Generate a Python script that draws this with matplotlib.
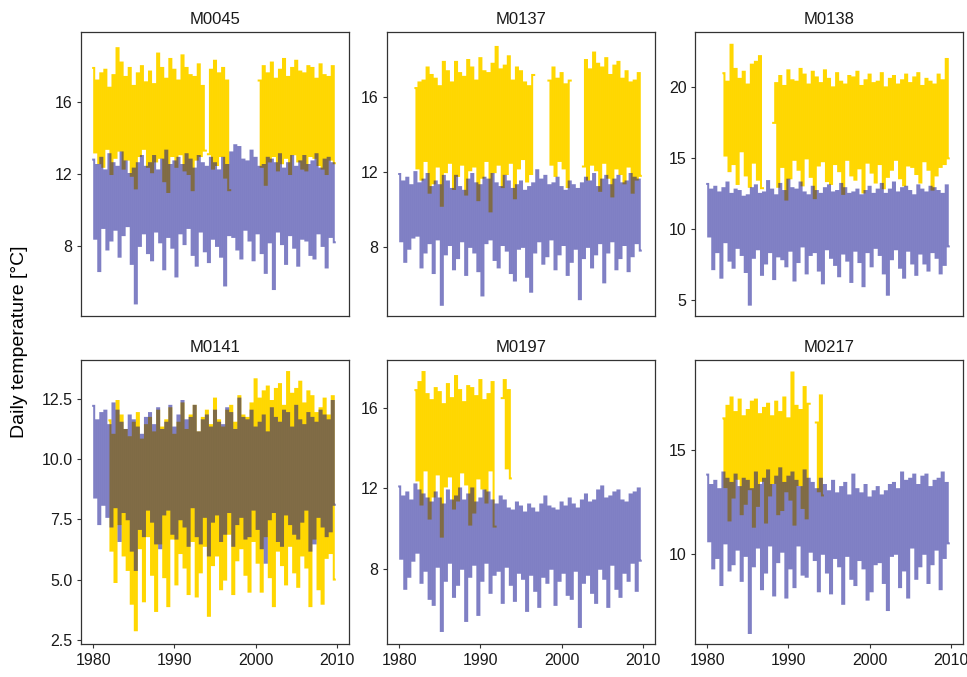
import numpy as np
import matplotlib
matplotlib.use("Agg")
import matplotlib.pyplot as plt

nan = float("nan")

# ---------------- data (quarterly readings, °C) ----------------
stations = ["M0045", "M0137", "M0138", "M0141", "M0197", "M0217"]

m0045_yellow_start = 1980.0
m0045_yellow = [
    17.9, 13.2, 17.2, 12.6, 17.6, 12.4, 17.8, 13.4,
    16.8, 12.0, 17.5, 12.9, 19.0, 13.3, 18.2, 12.3,
    17.4, 12.8, 17.9, 11.9, 16.9, 11.2, 17.6, 13.0,
    18.0, 13.4, 17.1, 12.4, 17.7, 12.1, 17.0, 12.7,
    18.7, 12.9, 17.9, 11.6, 17.3, 11.0, 18.4, 13.0,
    17.8, 12.4, 17.2, 13.1, 18.6, 12.2, 17.9, 12.0,
    17.5, 11.1, 17.4, 12.8, 18.1, 13.0, 16.9, 13.3,
    nan, 13.1, 17.8, 12.3, 18.3, 12.5, 17.6, 13.0,
    17.9, 11.8, 17.2, 11.1, nan, nan, nan, nan,
    nan, nan, nan, nan, nan, nan, nan, nan,
    nan, nan, 17.2, 12.4, 18.0, 11.4, 17.6, 12.7,
    18.2, 13.0, 17.3, 12.2, 17.8, 12.6, 18.4, 12.9,
    17.4, 12.0, 17.9, 13.1, 18.3, 12.7, 17.7, 12.3,
    17.6, 12.2, 18.0, 13.0, 17.9, 12.9, 17.3, 12.5,
    18.1, 12.3, 17.5, 12.0, 17.4, 12.8, 18.0, 12.6,
]
m0045_purple_start = 1980.0
m0045_purple = [
    12.8, 8.4, 12.5, 6.6, 12.9, 9.0, 12.2, 7.8,
    13.1, 8.3, 12.6, 8.9, 12.4, 7.4, 13.2, 8.6,
    12.7, 9.1, 12.0, 7.0, 12.3, 4.8, 12.6, 8.0,
    13.0, 8.7, 12.4, 7.6, 12.6, 7.2, 13.0, 8.8,
    12.2, 8.2, 12.8, 6.7, 13.3, 8.5, 12.5, 7.9,
    12.7, 6.3, 12.9, 8.7, 12.5, 8.1, 13.1, 9.0,
    12.8, 7.5, 12.3, 6.9, 13.0, 8.8, 12.6, 7.7,
    12.4, 7.1, 12.9, 8.4, 12.6, 8.0, 12.2, 7.4,
    12.9, 5.8, 12.5, 8.6, 13.2, 8.5, 13.6, 7.8,
    13.5, 7.3, 12.8, 8.9, 12.7, 8.3, 13.3, 7.2,
    12.9, 8.7, 12.4, 7.6, 12.5, 6.5, 12.9, 8.2,
    12.8, 5.6, 12.6, 8.8, 13.1, 8.1, 12.3, 7.0,
    12.6, 8.6, 13.0, 7.9, 12.4, 6.9, 12.7, 8.4,
    13.0, 8.3, 12.5, 7.5, 12.7, 7.3, 13.1, 8.7,
    12.3, 8.0, 12.8, 6.8, 12.9, 8.5, 12.6, 8.2,
]

m0137_yellow_start = 1982.0
m0137_yellow = [
    16.5, 12.2, 16.8, 11.6, 16.9, 12.6, 17.6, 10.9,
    17.2, 11.4, 17.0, 12.3, 16.6, 10.2, 17.9, 12.0,
    17.4, 12.5, 16.8, 11.1, 17.9, 11.8, 17.3, 12.4,
    17.1, 10.8, 18.0, 12.1, 17.6, 12.3, 16.9, 10.5,
    18.1, 11.7, 17.4, 12.6, 17.3, 9.9, 17.8, 12.0,
    18.7, 12.4, 17.5, 11.2, 17.7, 11.9, 18.2, 12.5,
    16.9, 10.6, 17.6, 12.2, 17.4, 12.7, 16.8, 11.5,
    16.6, 11.9, 17.2, nan, nan, nan, nan, nan,
    nan, nan, 16.9, 12.4, 17.6, 11.8, 17.0, 12.6,
    17.3, 12.2, 16.7, 11.2, 16.9, nan, nan, nan,
    nan, nan, nan, 12.3, 18.0, 11.6, 17.5, 12.4,
    18.4, 12.1, 17.8, 11.0, 17.6, 12.5, 18.1, 11.7,
    17.2, 10.7, 17.7, 12.2, 17.9, 11.9, 17.0, 11.4,
    17.4, 12.3, 16.8, 10.9, 16.9, 11.6, 17.3, 11.8,
]
m0137_purple_start = 1980.0
m0137_purple = [
    11.9, 8.3, 11.5, 7.2, 11.7, 7.9, 11.3, 8.5,
    12.0, 8.6, 11.4, 6.9, 11.6, 7.7, 11.9, 8.2,
    11.2, 6.6, 11.5, 8.4, 11.3, 4.9, 11.8, 7.6,
    11.5, 8.1, 11.1, 6.8, 11.8, 7.4, 11.2, 8.3,
    11.0, 6.5, 11.6, 8.0, 11.9, 7.7, 11.4, 6.7,
    11.3, 5.4, 11.7, 8.2, 11.6, 8.4, 11.9, 7.3,
    11.4, 6.9, 11.2, 8.1, 11.8, 7.8, 11.5, 6.6,
    11.1, 6.2, 11.3, 7.9, 11.5, 8.0, 11.0, 6.4,
    11.2, 5.6, 11.4, 7.7, 12.1, 8.3, 11.6, 7.1,
    11.8, 7.5, 11.3, 8.4, 11.4, 6.8, 11.7, 7.6,
    11.2, 8.1, 11.0, 6.5, 11.5, 7.2, 11.3, 7.9,
    11.1, 5.2, 11.4, 7.4, 11.7, 8.0, 11.5, 6.9,
    11.9, 7.6, 11.2, 8.2, 11.6, 6.1, 11.8, 7.7,
    11.3, 8.3, 11.6, 6.8, 11.8, 7.4, 11.4, 8.1,
    11.5, 6.7, 11.9, 7.5, 11.7, 8.2, 11.6, 7.8,
]

m0138_yellow_start = 1982.0
m0138_yellow = [
    21.0, 15.2, 20.4, 14.1, 23.0, 14.6, 21.3, 13.2,
    20.6, 15.5, 21.1, 13.8, 20.2, 13.0, 21.6, 14.7,
    21.8, 13.5, 22.2, 12.9, nan, nan, nan, nan,
    nan, 17.5, 20.3, 13.0, 20.8, 14.4, 20.1, 12.1,
    21.2, 13.6, 20.5, 14.9, 20.4, 14.2, 21.3, 13.1,
    20.9, 15.0, 20.2, 13.7, 21.1, 12.2, 20.7, 14.5,
    20.3, 14.8, 21.2, 13.4, 20.6, 13.2, 20.0, 14.6,
    21.0, 14.1, 20.4, 12.5, 20.2, 14.9, 20.8, 13.8,
    20.7, 13.5, 21.1, 14.3, 20.1, 12.6, 20.5, 14.7,
    20.9, 14.0, 20.3, 13.3, 20.4, 14.6, 21.0, 12.9,
    20.0, 13.7, 20.6, 14.2, 20.8, 14.9, 20.2, 13.6,
    20.5, 13.1, 20.9, 14.5, 20.3, 14.4, 20.7, 13.9,
    21.0, 13.3, 20.1, 14.8, 20.6, 14.2, 20.4, 12.8,
    20.2, 13.8, 20.9, 14.4, 20.5, 14.6, 22.0, 15.0,
]
m0138_purple_start = 1980.0
m0138_purple = [
    13.2, 9.5, 12.8, 7.2, 13.0, 8.4, 12.6, 6.6,
    12.9, 9.1, 13.3, 7.8, 12.5, 7.3, 12.8, 8.7,
    12.7, 8.2, 12.3, 7.0, 12.4, 4.7, 12.9, 8.0,
    13.1, 8.6, 12.5, 6.8, 12.6, 7.6, 13.4, 8.4,
    12.8, 6.5, 12.4, 8.1, 13.2, 7.9, 12.7, 7.4,
    13.5, 8.5, 12.9, 6.4, 12.8, 7.7, 13.3, 8.8,
    12.6, 6.9, 12.4, 8.2, 13.0, 8.4, 12.7, 7.1,
    12.5, 6.2, 12.9, 8.6, 13.1, 8.0, 12.6, 7.5,
    12.7, 6.7, 13.2, 8.3, 12.9, 7.8, 12.5, 6.3,
    12.6, 8.5, 12.8, 7.7, 12.4, 6.0, 12.7, 8.4,
    13.0, 7.4, 12.5, 8.7, 12.8, 8.2, 13.2, 6.9,
    12.5, 5.4, 12.8, 7.9, 13.3, 8.6, 12.6, 7.3,
    12.9, 6.6, 13.0, 8.5, 12.7, 7.6, 12.4, 6.8,
    13.1, 8.3, 12.8, 7.6, 12.6, 7.1, 13.0, 8.4,
    12.9, 8.0, 12.7, 6.9, 12.5, 7.5, 13.1, 8.8,
]

m0141_yellow_start = 1982.0
m0141_yellow = [
    11.6, 6.2, 11.0, 4.9, 12.4, 7.3, 11.8, 6.0,
    11.2, 5.4, 10.9, 4.0, 11.5, 2.9, 11.9, 6.3,
    10.8, 4.1, 11.4, 6.8, 11.7, 5.2, 11.1, 3.7,
    12.0, 6.5, 11.3, 5.1, 11.6, 3.9, 12.1, 6.7,
    11.0, 4.8, 11.5, 6.1, 12.3, 5.5, 11.2, 4.4,
    11.8, 6.6, 12.2, 4.3, 11.1, 5.3, 11.7, 6.4,
    12.0, 3.5, 11.4, 5.6, 12.5, 6.0, 11.6, 4.6,
    11.3, 5.0, 12.0, 6.9, 12.2, 4.4, 11.5, 5.8,
    12.6, 6.3, 11.8, 5.2, 11.7, 4.5, 12.3, 6.6,
    13.3, 5.7, 12.5, 4.5, 12.8, 6.8, 13.0, 5.1,
    12.4, 3.9, 12.9, 6.2, 13.1, 5.6, 12.2, 4.8,
    13.6, 6.4, 12.7, 5.3, 12.9, 4.7, 13.2, 6.0,
    12.3, 5.5, 12.8, 3.9, 12.6, 6.7, 11.9, 4.6,
    12.1, 4.0, 12.5, 5.9, 11.8, 6.1, 12.6, 5.0,
]
m0141_purple_start = 1980.0
m0141_purple = [
    12.2, 8.4, 11.6, 7.3, 11.9, 8.1, 12.0, 7.6,
    11.4, 7.2, 12.3, 8.0, 12.0, 6.6, 11.5, 7.8,
    11.2, 7.5, 11.8, 6.2, 11.6, 5.4, 11.3, 7.1,
    11.0, 6.8, 11.7, 7.9, 11.9, 7.4, 11.4, 6.5,
    12.1, 6.3, 11.2, 7.7, 11.5, 7.9, 12.2, 6.9,
    11.3, 6.7, 11.8, 7.5, 12.4, 7.2, 11.6, 6.4,
    11.7, 8.0, 12.2, 6.8, 11.1, 6.5, 11.6, 7.6,
    11.8, 6.0, 11.3, 7.4, 12.0, 7.7, 11.5, 6.6,
    11.4, 6.9, 12.1, 7.8, 11.9, 6.4, 11.2, 7.3,
    12.5, 7.6, 11.7, 6.7, 11.6, 6.8, 12.0, 7.9,
    11.3, 7.1, 11.5, 6.3, 11.8, 5.7, 11.1, 7.5,
    12.1, 7.8, 11.7, 6.6, 11.5, 6.4, 12.0, 7.7,
    11.9, 7.3, 11.3, 6.9, 12.2, 6.7, 11.6, 7.4,
    11.4, 7.9, 11.9, 6.2, 11.7, 6.5, 11.5, 7.6,
    12.0, 7.2, 11.8, 6.8, 11.6, 7.0, 12.4, 8.1,
]

m0197_yellow_start = 1982.0
m0197_yellow = [
    16.9, 12.4, 17.3, 11.2, 17.8, 12.9, 16.7, 10.5,
    16.4, 11.6, 17.0, 12.7, 16.8, 9.6, 16.2, 12.1,
    17.2, 12.6, 16.5, 11.0, 17.6, 11.4, 16.9, 12.8,
    16.3, 12.2, 17.1, 10.2, 17.0, 10.8, 16.6, 12.5,
    17.4, 12.0, 16.4, 11.3, 16.7, 12.9, 17.3, 10.1,
    nan, nan, nan, 16.5, 17.4, 13.0, 16.9, 12.5,
]
m0197_purple_start = 1980.0
m0197_purple = [
    12.1, 8.5, 11.6, 7.0, 11.8, 7.6, 11.4, 8.4,
    12.2, 8.8, 11.9, 7.3, 11.7, 7.9, 11.5, 6.5,
    11.3, 6.2, 11.8, 8.1, 11.5, 4.9, 11.2, 7.4,
    11.9, 8.3, 11.4, 6.6, 11.6, 7.2, 12.0, 8.0,
    11.4, 5.4, 11.7, 7.6, 12.0, 8.2, 11.3, 5.7,
    11.5, 7.4, 11.9, 8.3, 11.8, 6.8, 11.4, 7.7,
    11.2, 7.9, 11.6, 6.3, 11.4, 8.1, 11.0, 7.2,
    10.9, 6.4, 11.3, 7.8, 11.1, 7.5, 10.8, 5.9,
    11.2, 7.7, 11.0, 6.9, 10.8, 6.1, 11.2, 7.6,
    11.6, 7.3, 11.1, 8.0, 11.0, 6.2, 10.9, 7.4,
    11.3, 7.8, 11.1, 6.7, 11.5, 6.5, 11.2, 7.9,
    11.0, 5.1, 11.4, 7.3, 11.7, 7.7, 11.3, 6.8,
    11.4, 6.3, 11.9, 8.0, 12.1, 7.5, 11.5, 6.1,
    11.6, 8.2, 11.8, 7.0, 11.9, 6.6, 11.4, 7.8,
    11.3, 7.4, 11.7, 8.3, 11.8, 6.9, 12.0, 8.4,
]

m0217_yellow_start = 1982.0
m0217_yellow = [
    16.5, 13.2, 17.1, 11.6, 17.5, 12.7, 16.8, 13.6,
    17.4, 11.9, 16.6, 12.4, 16.9, 13.1, 17.3, 11.3,
    17.4, 12.3, 16.7, 13.5, 17.0, 11.5, 17.2, 12.8,
    16.6, 13.4, 17.3, 11.9, 16.8, 12.1, 17.5, 13.0,
    16.5, 12.6, 18.7, 11.4, 17.1, 13.3, 16.9, 12.2,
    18.0, 11.7, 17.2, nan, nan, nan, 16.3, 13.0,
    17.6, 12.8,
]
m0217_purple_start = 1980.0
m0217_purple = [
    13.8, 10.6, 13.3, 9.3, 13.5, 9.8, 13.1, 8.5,
    13.9, 10.5, 13.6, 9.2, 13.4, 9.5, 13.8, 10.2,
    13.2, 8.7, 13.6, 9.9, 13.5, 6.2, 13.1, 9.4,
    13.9, 10.3, 13.3, 8.3, 13.6, 9.1, 14.0, 10.4,
    13.3, 8.0, 13.7, 9.6, 14.1, 10.1, 13.4, 7.9,
    13.7, 9.3, 13.9, 8.4, 13.5, 10.4, 13.2, 9.0,
    14.0, 8.9, 13.6, 10.1, 13.4, 9.7, 13.1, 8.2,
    13.6, 10.0, 13.3, 9.1, 13.0, 8.1, 13.5, 9.8,
    12.9, 9.4, 13.2, 7.6, 13.4, 9.9, 12.8, 8.8,
    13.8, 8.5, 13.1, 9.7, 12.9, 9.3, 13.3, 7.8,
    12.7, 8.2, 13.0, 9.5, 13.2, 9.6, 12.8, 8.6,
    13.0, 7.3, 13.3, 9.9, 13.4, 10.0, 13.1, 8.4,
    13.9, 9.2, 13.5, 7.9, 13.6, 10.3, 13.8, 8.8,
    13.3, 9.4, 13.7, 10.0, 13.8, 8.6, 13.2, 9.5,
    13.5, 10.2, 13.6, 8.3, 13.9, 9.8, 13.4, 10.5,
]

yellow_series = [m0045_yellow, m0137_yellow, m0138_yellow,
                 m0141_yellow, m0197_yellow, m0217_yellow]
yellow_starts = [m0045_yellow_start, m0137_yellow_start, m0138_yellow_start,
                 m0141_yellow_start, m0197_yellow_start, m0217_yellow_start]
purple_series = [m0045_purple, m0137_purple, m0138_purple,
                 m0141_purple, m0197_purple, m0217_purple]
purple_starts = [m0045_purple_start, m0137_purple_start, m0138_purple_start,
                 m0141_purple_start, m0197_purple_start, m0217_purple_start]

y_ticks = [[8, 12, 16], [8, 12, 16], [5, 10, 15, 20],
           [2.5, 5.0, 7.5, 10.0, 12.5], [8, 12, 16], [10, 15]]
y_tick_labels = [["8", "12", "16"], ["8", "12", "16"], ["5", "10", "15", "20"],
                 ["2.5", "5.0", "7.5", "10.0", "12.5"], ["8", "12", "16"], ["10", "15"]]
y_limits = [(4.1, 19.9), (4.3, 19.5), (3.9, 23.9),
            (2.33, 14.1), (4.25, 18.4), (5.67, 19.3)]
x_ticks = [1980, 1990, 2000, 2010]
step = 0.25

# ---------------- figure ----------------
plt.rcParams['font.family'] = ['Liberation Sans', 'DejaVu Sans']
W, H = 967, 677
fig = plt.figure(figsize=(W / 100, H / 100), dpi=100)

lefts = [81, 387, 695]
tops = [32, 360]
pw, ph = 268, 284

yellow_col = "#FFD700"
purple_col = "#00008B"

for i, name in enumerate(stations):
    r, c = divmod(i, 3)
    l, t = lefts[c], tops[r]
    ax = fig.add_axes([l / W, 1 - (t + ph) / H, pw / W, ph / H])
    ya = np.array(yellow_series[i], dtype=float)
    xa = yellow_starts[i] + step * np.arange(len(ya))
    pb = np.array(purple_series[i], dtype=float)
    xb = purple_starts[i] + step * np.arange(len(pb))
    ax.plot(xa, ya, color=yellow_col, lw=1.45, drawstyle="steps-mid",
            snap=False, solid_joinstyle="miter", zorder=2)
    ax.plot(xb, pb, color=purple_col, alpha=0.5, lw=1.45, drawstyle="steps-mid",
            snap=False, solid_joinstyle="miter", zorder=3)
    ax.set_xlim(1978.5, 2011.5)
    ax.set_ylim(*y_limits[i])
    ax.set_yticks(y_ticks[i])
    ax.set_yticklabels(y_tick_labels[i])
    ax.set_xticks(x_ticks)
    if r == 0:
        ax.tick_params(axis="x", bottom=False, labelbottom=False)
    else:
        ax.set_xticklabels([str(v) for v in x_ticks])
    ax.tick_params(axis="both", length=3.2, width=0.8, color="#333333",
                   labelsize=11.5, labelcolor="#1a1a1a", pad=3)
    for sp in ax.spines.values():
        sp.set_color("#333333")
        sp.set_linewidth(0.9)
    ax.set_title(name, fontsize=12, color="#1a1a1a", pad=6)

fig.text(20 / W, 1 - 342 / H, "Daily temperature [°C]", rotation=90,
         ha="center", va="center", fontsize=14, color="#000000")

fig.savefig("out.png", dpi=100)
